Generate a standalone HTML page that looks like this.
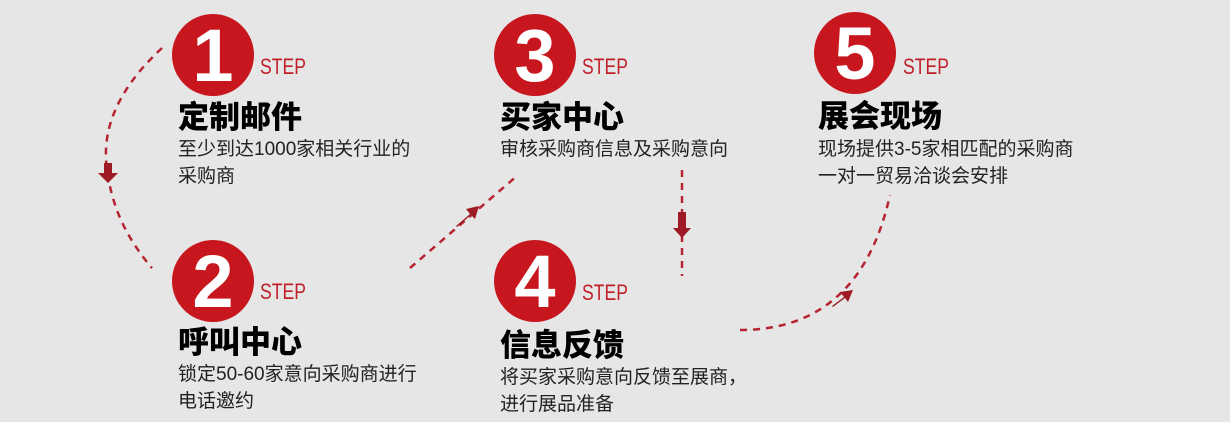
<!DOCTYPE html>
<html><head><meta charset="utf-8"><style>
body{margin:0;width:1230px;height:422px;background:#e6e6e6;position:relative;overflow:hidden;font-family:"Liberation Sans","Noto Sans CJK SC",sans-serif}
.c{position:absolute;width:82px;height:82px;border-radius:50%;background:#c8161e;color:#fff;font:bold 74px/84px "Liberation Sans",sans-serif;text-align:center}
.s{position:absolute;color:#c01f28;font:22px "Liberation Sans Narrow","Liberation Sans",sans-serif;transform:scaleX(.8);transform-origin:left}
.t{position:absolute;font:900 31px/34px "Noto Sans CJK SC",sans-serif;color:#000;letter-spacing:0}
.d{position:absolute;font:19px/27px "Liberation Sans","Noto Sans CJK SC",sans-serif;color:#222}
</style></head><body>
<svg width="1230" height="422" style="position:absolute;left:0;top:0">
<g fill="none" stroke="#b52430" stroke-width="2.5" stroke-dasharray="7,6">
<path d="M162 48 Q95 110 108 175 Q115 225 152 268"/>
<path d="M410 268 L518 175"/>
<path d="M682 170 L682 276"/>
<path d="M740 330 Q860 330 890 195"/>
</g>
<g fill="#9e1a24">
<path d="M104 163 h8 v10 h6 l-10 10 l-10 -10 h6z"/>
<path d="M456 226 l14 -12 l-4 -5 l13 -3 l-4 13 l-4 -4 l-14 12z"/>
<path d="M678 212 h8 v16 h5 l-9 10 l-9 -10 h5z"/>
<path d="M832 306 l12 -9 l-4 -5 l13 -2 l-5 12 l-3 -4 l-12 9z"/>
</g>
</svg>
<div class="c" style="left:172px;top:14px">1</div><div class="s" style="left:260px;top:54px">STEP</div>
<div class="t" style="left:178px;top:98px">定制邮件</div>
<div class="d" style="left:178px;top:136px">至少到达1000家相关行业的<br>采购商</div>
<div class="c" style="left:172px;top:240px">2</div><div class="s" style="left:260px;top:279px">STEP</div>
<div class="t" style="left:178px;top:323px">呼叫中心</div>
<div class="d" style="left:178px;top:361px">锁定50-60家意向采购商进行<br>电话邀约</div>
<div class="c" style="left:494px;top:14px">3</div><div class="s" style="left:582px;top:54px">STEP</div>
<div class="t" style="left:500px;top:98px">买家中心</div>
<div class="d" style="left:500px;top:136px">审核采购商信息及采购意向</div>
<div class="c" style="left:494px;top:240px">4</div><div class="s" style="left:582px;top:280px">STEP</div>
<div class="t" style="left:500px;top:326px">信息反馈</div>
<div class="d" style="left:500px;top:364px">将买家采购意向反馈至展商，<br>进行展品准备</div>
<div class="c" style="left:814px;top:12px">5</div><div class="s" style="left:903px;top:54px">STEP</div>
<div class="t" style="left:818px;top:97px">展会现场</div>
<div class="d" style="left:818px;top:136px">现场提供3-5家相匹配的采购商<br>一对一贸易洽谈会安排</div>
</body></html>
